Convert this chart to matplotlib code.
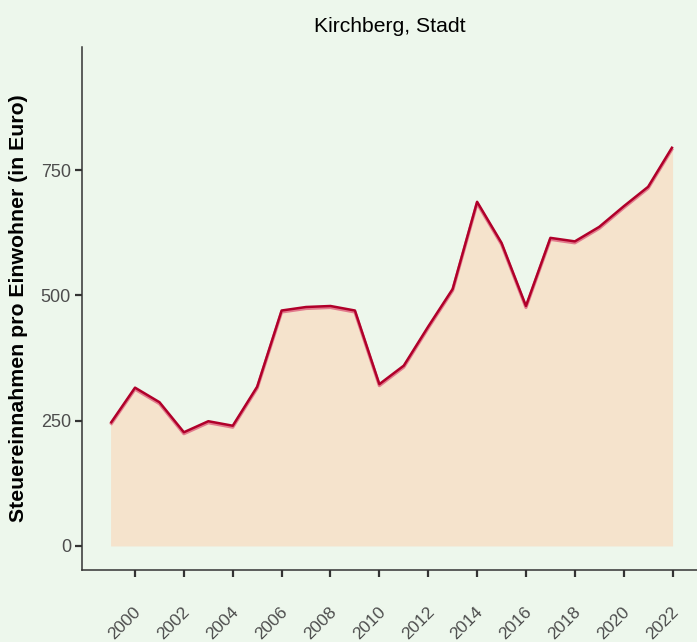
import matplotlib
matplotlib.use("Agg")
import matplotlib.pyplot as plt
from matplotlib.transforms import ScaledTranslation

years = list(range(1999, 2023))
values = [245, 316, 287, 227, 249, 240, 318, 470, 477, 479, 470, 323,
          360, 438, 513, 687, 605, 479, 615, 608, 637, 678, 717, 797]
yticks = [0, 250, 500, 750]
xticks = list(range(2000, 2023, 2))
title = "Kirchberg, Stadt"
ylabel = "Steuereinnahmen pro Einwohner (in Euro)"

bg = "#EDF7EC"
plt.rcParams['font.family'] = ['Liberation Sans', 'DejaVu Sans']

fig = plt.figure(figsize=(6.97, 6.42), dpi=100, facecolor=bg)
W, H = 697, 642
left, right, top, bottom = 82, 697, 47, 570
ax = fig.add_axes([left / W, 1 - bottom / H, (right - left) / W, (bottom - top) / H])
ax.set_facecolor(bg)

ax.fill_between(years, 0, values, color="#F5E3CC", linewidth=0, zorder=1)
shadow = ax.transData + ScaledTranslation(0, -1.5 / 100, fig.dpi_scale_trans)
ax.plot(years, values, color="#E27A8C", lw=2.3, transform=shadow, zorder=2,
        solid_capstyle='butt')
ax.plot(years, values, color="#B0002A", lw=1.8, zorder=3, solid_capstyle='butt')

ax.set_xlim(1997.83, 2023.0)
ax.set_ylim(-48, 996)
ax.set_yticks(yticks)
ax.set_xticks(xticks)
ax.set_xticklabels([str(x) for x in xticks])

for s in ['top', 'right']:
    ax.spines[s].set_visible(False)
for s in ['left', 'bottom']:
    ax.spines[s].set_color("#333333")
    ax.spines[s].set_linewidth(1.1)

ax.tick_params(axis='both', colors="#333333", length=5, width=1.6,
               labelcolor="#4D4D4D", labelsize=13)
ax.tick_params(axis='y', pad=3)
ax.tick_params(axis='x', pad=33, labelsize=12.5)
for lab in ax.get_xticklabels():
    lab.set_rotation(45)
    lab.set_rotation_mode('anchor')
    lab.set_ha('center')
    lab.set_va('center')
    lab.set_transform(lab.get_transform() + ScaledTranslation(-0.10, 0, fig.dpi_scale_trans))

fig.text(19 / W, 1 - 308.5 / H, ylabel, rotation=90, ha='center', va='center',
         fontsize=15.3, fontweight='bold', color='black')
fig.text((left + right) / 2 / W, 1 - 27 / H, title, ha='center', va='center',
         fontsize=15.2, color='black')

fig.savefig("out.png", dpi=100, facecolor=bg)
